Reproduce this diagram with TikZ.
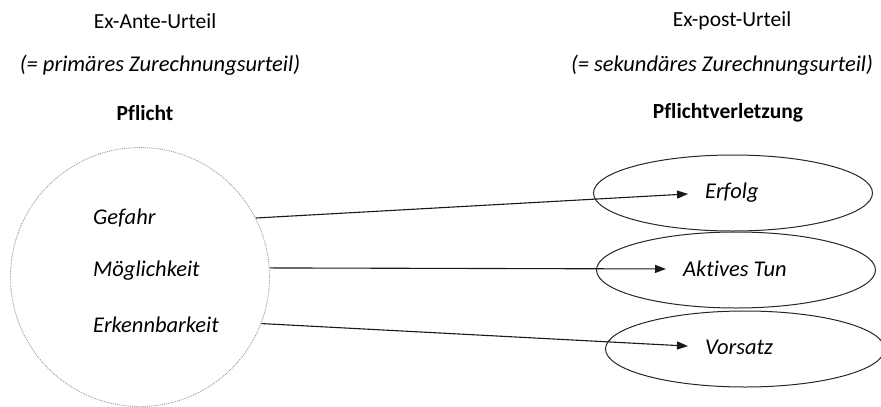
\documentclass[tikz,border=0pt]{standalone}
\usepackage{fontspec}
\setmainfont{Carlito}[Ligatures=NoCommon]
\usetikzlibrary{shapes.geometric,arrows.meta}
\tikzset{
  x=1pt,y=-1pt,
  head/.style={font=\fontsize{21.5}{24}\selectfont, inner sep=0pt, anchor=center},
  sub/.style={font=\fontsize{22.5}{24}\selectfont\itshape, inner sep=0pt, anchor=center},
  tit/.style={font=\fontsize{21.5}{24}\selectfont\bfseries, inner sep=0pt, anchor=center},
  item/.style={font=\fontsize{22.5}{24}\selectfont\itshape, inner sep=0pt},
  bigcirc/.style={circle, draw=gray!80, densely dotted, line width=0.9pt, minimum size=259pt, inner sep=0pt},
  oval/.style={ellipse, draw=black!85, line width=1pt, minimum width=279pt, minimum height=76pt, inner sep=0pt},
  conn/.style={draw=black!90, line width=1.1pt, -{Triangle[length=11pt,width=8pt]}, shorten >=17pt}
}
\begin{document}
\begin{tikzpicture}
\useasboundingbox (0,0) rectangle (881,407);
% headings
\node[head] (h1) at (155,21) {Ex-Ante-Urteil};
\node[sub]  (s1) at (160,65) {(= primäres Zurechnungsurteil)};
\node[tit]  (t1) at (145,113) {Pflicht};
\node[head] (h2) at (732,21) {Ex-post-Urteil};
\node[sub]  (s2) at (722,65) {(= sekundäres Zurechnungsurteil)};
\node[tit]  (t2) at (728,113) {Pflichtverletzung};
% circle
\node[bigcirc] (c) at (140,277) {};
\node[item, anchor=west] (g)  at (93,218) {Gefahr};
\node[item, anchor=west] (m)  at (93,271) {Möglichkeit};
\node[item, anchor=west] (k)  at (93,325) {Erkennbarkeit};
% ellipses
\node[oval] (e1) at (733,193) {};
\node[oval] (e2) at (736,270) {};
\node[oval] (e3) at (745,349) {};
\node[item, anchor=west] (r1) at (705,193) {Erfolg};
\node[item, anchor=west] (r2) at (683,269) {Aktives Tun};
\node[item, anchor=west] (r3) at (705,347) {Vorsatz};
% connectors
\draw[conn] (c.27.5) -- (r1.west);
\draw[conn] (c.4) -- (r2.west);
\draw[conn] (c.-21) -- (r3.west);
\end{tikzpicture}
\end{document}
